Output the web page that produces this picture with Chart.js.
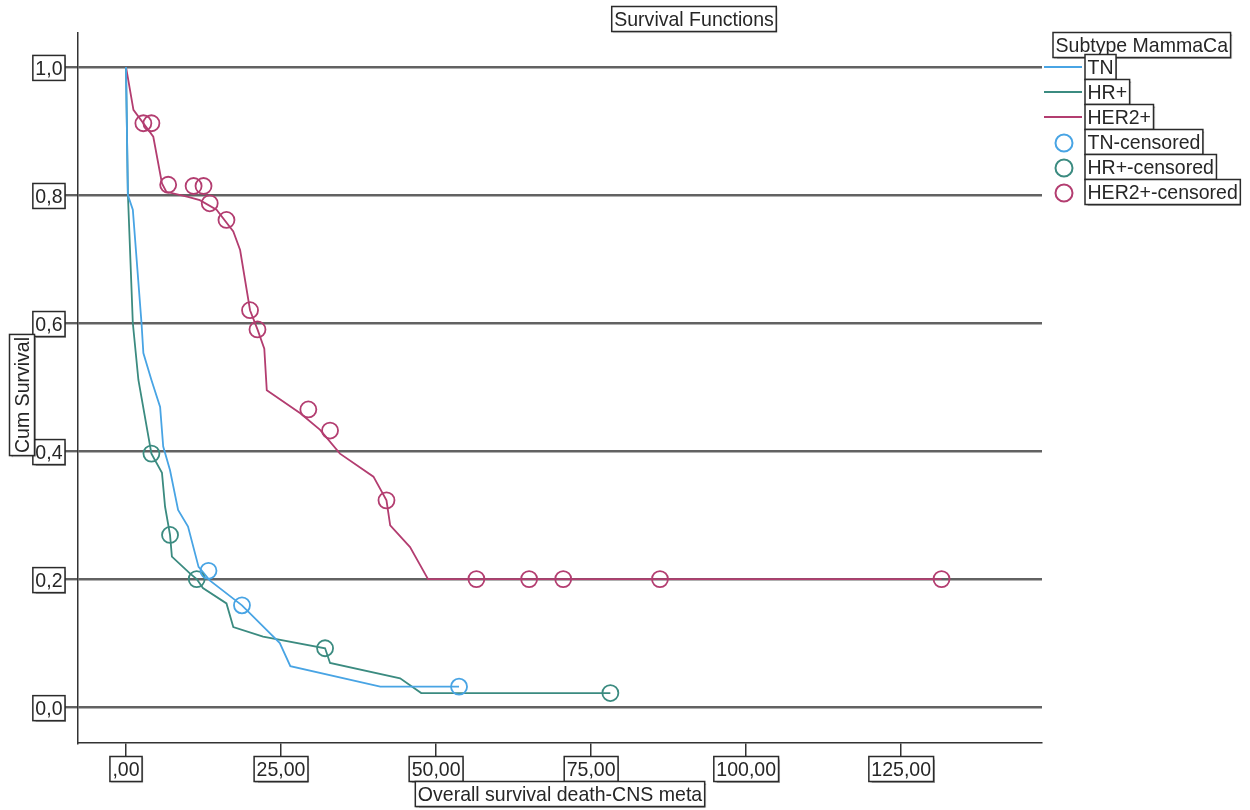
<!DOCTYPE html>
<html>
<head>
<meta charset="utf-8">
<script src="https://cdn.jsdelivr.net/npm/chart.js@4.4.0/dist/chart.umd.min.js"></script>
<style>
html,body{margin:0;padding:0;background:#fff}
</style>
</head>
<body>
<canvas id="c" width="1250" height="810"></canvas>
<script>
// Kaplan-Meier curves (time in months, cum survival)
const groups=["TN","HR+","HER2+"];

const tnTime=[0,0.3,1.1,2.5,2.8,4.1,5.5,6.0,7.1,8.4,10.0,11.7,13.5,18.7,24.8,26.5,41.0,53.7];
const tnSurv=[1.0,0.8,0.777,0.6,0.553,0.511,0.469,0.407,0.370,0.308,0.282,0.219,0.198,0.159,0.100,0.064,0.032,0.032];
const tnCensTime=[13.3,18.7,53.7];
const tnCensSurv=[0.213,0.159,0.032];

const hrTime=[0,0.3,1.1,2.0,4.1,5.8,6.3,7.1,7.4,10.3,11.4,12.4,16.2,17.3,22.1,32.1,32.9,44.2,47.6,78.1];
const hrSurv=[1.0,0.803,0.6,0.511,0.396,0.366,0.313,0.269,0.235,0.209,0.200,0.186,0.162,0.125,0.110,0.092,0.069,0.045,0.022,0.022];
const hrCensTime=[4.1,7.1,11.4,32.1,78.1];
const hrCensSurv=[0.396,0.269,0.200,0.092,0.022];

const herTime=[0,1.2,4.4,5.8,6.5,10.0,11.9,14.6,17.3,18.4,20.0,21.2,22.3,22.7,28.1,31.3,34.5,39.9,42.0,42.6,45.8,48.7,131.5];
const herSurv=[1.0,0.933,0.891,0.818,0.805,0.797,0.792,0.777,0.743,0.714,0.620,0.590,0.560,0.495,0.459,0.433,0.396,0.360,0.323,0.284,0.250,0.200,0.200];
const herCensTime=[2.8,4.1,6.8,10.9,12.5,13.5,16.2,20.0,21.2,29.4,32.9,42.0,56.5,65.0,70.5,86.1,131.5];
const herCensSurv=[0.912,0.912,0.816,0.814,0.814,0.787,0.761,0.620,0.590,0.465,0.432,0.323,0.200,0.200,0.200,0.200,0.200];

const colors=["#48a4e4","#3b8b80","#b33d70"];

const xTicks=[0,25,50,75,100,125];
const yTicks=[0,0.2,0.4,0.6,0.8,1.0];

function pts(xs,ys){ return xs.map((x,i)=>({x:x,y:ys[i]})); }

const FS=21, SX=0.93;
const FONT=FS+'px "Liberation Sans", Arial, sans-serif';

// draw text inside a thin box, SPSS style; anchor = which side of the box sits at x
function boxText(ctx,txt,x,y,anchor){
  ctx.save();
  ctx.font=FONT;
  const w=ctx.measureText(txt).width*SX;
  const bw=w+5, bh=25;
  let left=x;
  if(anchor==="center") left=x-bw/2;
  else if(anchor==="right") left=x-bw;
  ctx.shadowColor="rgba(0,0,0,0.35)";
  ctx.shadowOffsetX=1; ctx.shadowOffsetY=1; ctx.shadowBlur=1;
  ctx.fillStyle="#fff";
  ctx.fillRect(left,y-bh/2,bw,bh);
  ctx.shadowColor="transparent";
  ctx.strokeStyle="#2b2b2b"; ctx.lineWidth=1.5;
  ctx.strokeRect(left,y-bh/2,bw,bh);
  ctx.fillStyle="#262626";
  ctx.textBaseline="middle";
  ctx.translate(left+2.5,y+1);
  ctx.scale(SX,1);
  ctx.fillText(txt,0,0);
  ctx.restore();
}

const spssText={
  id:"spssText",
  afterDraw(chart){
    const ctx=chart.ctx, xs=chart.scales.x, ys=chart.scales.y, a=chart.chartArea;
    xTicks.forEach(v=>{
      const lbl=v===0?",00":v.toFixed(2).replace(".",",");
      boxText(ctx,lbl,xs.getPixelForValue(v),a.bottom+26,"center");
    });
    yTicks.forEach(v=>{
      boxText(ctx,v.toFixed(1).replace(".",","),a.left-13,ys.getPixelForValue(v)+1,"right");
    });
    boxText(ctx,"Overall survival death-CNS meta",(a.left+a.right)/2,794,"center");
    ctx.save();
    ctx.translate(22,395); ctx.rotate(-Math.PI/2);
    boxText(ctx,"Cum Survival",0,0,"center");
    ctx.restore();
    boxText(ctx,"Survival Functions",694,19,"center");

    // legend
    boxText(ctx,"Subtype MammaCa",1053,45,"left");
    const items=[...groups,...groups.map(g=>g+"-censored")];
    items.forEach((t,i)=>{
      const y=67+i*25, c=colors[i%3];
      ctx.save();
      ctx.strokeStyle=c; ctx.lineWidth=2;
      ctx.beginPath();
      if(i<3){ ctx.moveTo(1044,y); ctx.lineTo(1082,y); }
      else { ctx.arc(1064,y+1,8.5,0,Math.PI*2); }
      ctx.stroke();
      ctx.restore();
      boxText(ctx,t,1085,y,"left");
    });
  }
};

const lineDs=(label,xs,ys,c)=>({label:label,data:pts(xs,ys),borderColor:c,borderWidth:1.8,
  pointRadius:0,showLine:true,fill:false,tension:0,order:2});
const censDs=(label,xs,ys,c)=>({label:label,data:pts(xs,ys),borderColor:c,backgroundColor:"rgba(0,0,0,0)",
  pointBorderColor:c,pointBackgroundColor:"rgba(0,0,0,0)",pointRadius:8,pointBorderWidth:1.8,
  pointStyle:"circle",showLine:false,order:1});

new Chart(document.getElementById("c"),{
  type:"scatter",
  data:{datasets:[
    lineDs("TN",tnTime,tnSurv,colors[0]),
    lineDs("HR+",hrTime,hrSurv,colors[1]),
    lineDs("HER2+",herTime,herSurv,colors[2]),
    censDs("TN-censored",tnCensTime,tnCensSurv,colors[0]),
    censDs("HR+-censored",hrCensTime,hrCensSurv,colors[1]),
    censDs("HER2+-censored",herCensTime,herCensSurv,colors[2])
  ]},
  options:{
    responsive:false,animation:false,devicePixelRatio:1,
    layout:{padding:{left:0,top:33,right:208,bottom:0}},
    plugins:{legend:{display:false},tooltip:{enabled:false},title:{display:false}},
    scales:{
      x:{type:"linear",min:-7.74,max:147.7,
        ticks:{display:false,stepSize:25,includeBounds:false},
        grid:{drawOnChartArea:false,drawTicks:true,tickLength:13,color:"#333",lineWidth:1.5},
        border:{color:"#333",width:1.5},
        afterFit:s=>{s.height=67;}},
      y:{type:"linear",min:-0.056,max:1.053,
        ticks:{display:false,stepSize:0.2,includeBounds:false},
        grid:{drawTicks:true,tickLength:13,color:"#626262",lineWidth:2.4},
        border:{color:"#333",width:1.5},
        afterFit:s=>{s.width=78;}}
    }
  },
  plugins:[spssText]
});
</script>
</body>
</html>
